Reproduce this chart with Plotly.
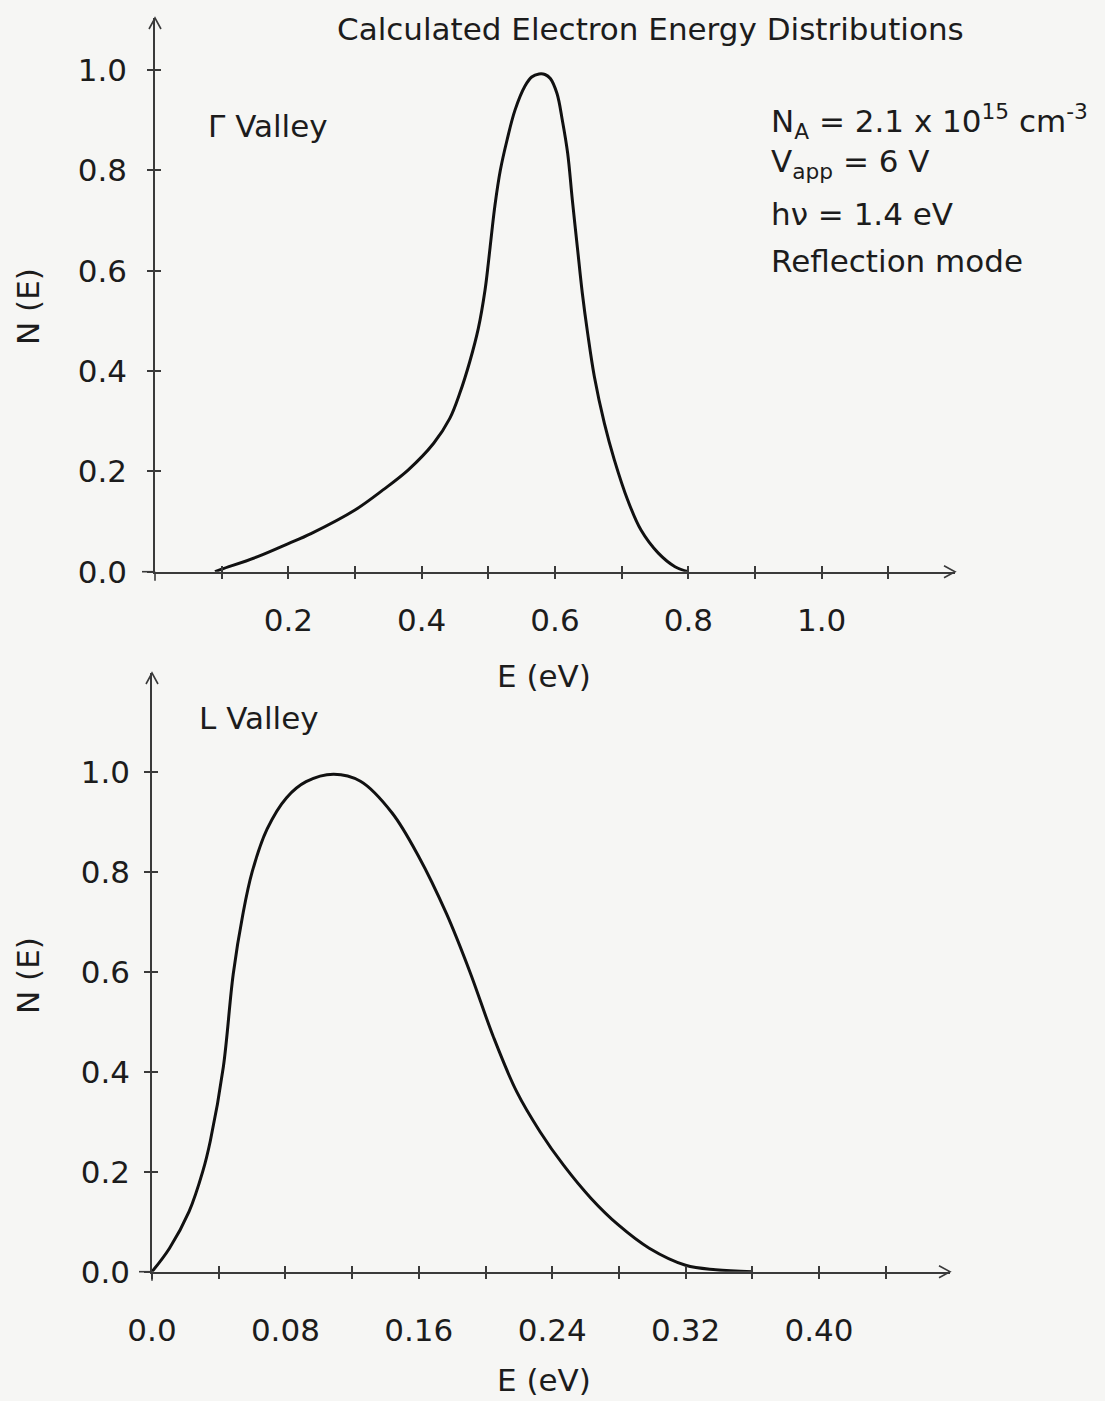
import plotly.graph_objects as go

# ---------------- data ----------------
gamma_E = [0.09, 0.10, 0.154, 0.20, 0.234, 0.30, 0.342, 0.38, 0.418, 0.442, 0.457, 0.472, 0.485,
           0.495, 0.50, 0.505, 0.51, 0.518, 0.528, 0.54, 0.555, 0.565, 0.576, 0.585, 0.593, 0.603,
           0.611, 0.619, 0.626, 0.634, 0.641, 0.649, 0.659, 0.674, 0.689, 0.709, 0.729, 0.755,
           0.78, 0.80]
gamma_N = [0.0, 0.005, 0.03, 0.056, 0.076, 0.123, 0.163, 0.203, 0.256, 0.305, 0.355, 0.418, 0.485,
           0.561, 0.615, 0.675, 0.731, 0.80, 0.86, 0.92, 0.968, 0.986, 0.992, 0.991, 0.983, 0.953,
           0.90, 0.834, 0.741, 0.641, 0.555, 0.475, 0.389, 0.296, 0.223, 0.143, 0.083, 0.037,
           0.01, 0.0]

l_E = [0.0, 0.0105, 0.0222, 0.0304, 0.035, 0.0428, 0.0487, 0.0545, 0.0601, 0.069, 0.0807, 0.0924,
       0.1088, 0.125, 0.1439, 0.16, 0.1766, 0.1906, 0.2047, 0.2187, 0.2327, 0.2468, 0.2632, 0.2795,
       0.2982, 0.32, 0.338, 0.36]
l_N = [0.0, 0.047, 0.12, 0.2, 0.262, 0.41, 0.595, 0.715, 0.80, 0.885, 0.948, 0.98, 0.995, 0.981,
       0.918, 0.83, 0.716, 0.60, 0.47, 0.36, 0.28, 0.213, 0.147, 0.094, 0.047, 0.013, 0.004, 0.0]

top_x_ticks = [0.1, 0.2, 0.3, 0.4, 0.5, 0.6, 0.7, 0.8, 0.9, 1.0, 1.1]
top_x_label_vals = [0.2, 0.4, 0.6, 0.8, 1.0]
top_x_labels = ["0.2", "0.4", "0.6", "0.8", "1.0"]
bot_x_ticks = [0.0, 0.04, 0.08, 0.12, 0.16, 0.20, 0.24, 0.28, 0.32, 0.36, 0.40, 0.44]
bot_x_label_vals = [0.0, 0.08, 0.16, 0.24, 0.32, 0.40]
bot_x_labels = ["0.0", "0.08", "0.16", "0.24", "0.32", "0.40"]
y_ticks = [0.0, 0.2, 0.4, 0.6, 0.8, 1.0]
y_labels = ["0.0", "0.2", "0.4", "0.6", "0.8", "1.0"]

title_text = "Calculated Electron Energy Distributions"
info_lines = ["N<sub>A</sub> = 2.1 x 10<sup>15</sup> cm<sup>-3</sup>",
              "V<sub>app</sub> = 6 V",
              "hν = 1.4 eV",
              "Reflection mode"]

# ---------------- layout helpers ----------------
W, H = 1105, 1401
FONT = "DejaVu Sans"
INK = "#1c1c1c"
AX = "#3a3a3a"
BG = "#f6f6f4"
FS = 31


def px(x):
    return x / W


def py(y):
    return 1 - y / H


fig = go.Figure()

fig.add_trace(go.Scatter(x=gamma_E, y=gamma_N, mode="lines", xaxis="x", yaxis="y",
                         line=dict(color="#111111", width=3, shape="spline", smoothing=1.0),
                         showlegend=False, hoverinfo="skip"))
fig.add_trace(go.Scatter(x=l_E, y=l_N, mode="lines", xaxis="x2", yaxis="y2",
                         line=dict(color="#111111", width=3, shape="spline", smoothing=1.0),
                         showlegend=False, hoverinfo="skip"))
# empty traces so the overlay tick axes (the two halves of the cross ticks) get drawn
for xa, ya in (("x3", "y3"), ("x4", "y4"), ("x5", "y3"), ("x6", "y4")):
    fig.add_trace(go.Scatter(x=[None], y=[None], xaxis=xa, yaxis=ya, showlegend=False, hoverinfo="skip"))

top_xdom = [px(155), px(955)]
top_ydom = [py(571.7), py(18)]
top_xr = [0, 1.2]
top_yr = [0, (571.7 - 18) / 501.7]

bot_xdom = [px(152), px(950)]
bot_ydom = [py(1271.7), py(673)]
bot_xr = [0, 0.04 * (950 - 152) / 66.7]
bot_yr = [0, (1271.7 - 673) / 500.0]

tickfont = dict(family=FONT, size=FS, color=INK)
common = dict(showgrid=False, zeroline=False, tickwidth=1.5, tickcolor=AX, ticklen=6, automargin=False)
tick_only = dict(showticklabels=False, showline=False, tickmode="array", **common)

fig.update_layout(
    width=W, height=H,
    margin=dict(l=0, r=0, t=0, b=0, autoexpand=False),
    paper_bgcolor=BG, plot_bgcolor=BG,
    # main axes: axis lines and labels
    xaxis=dict(domain=top_xdom, range=top_xr, anchor="y", showline=True, linecolor=AX, linewidth=1.5,
               ticks="", tickmode="array", tickvals=top_x_label_vals, ticktext=top_x_labels,
               tickfont=tickfont, ticklabelstandoff=20, **common),
    yaxis=dict(domain=top_ydom, range=top_yr, anchor="x", showline=True, linecolor=AX, linewidth=1.5,
               ticks="outside", tickmode="array", tickvals=y_ticks, ticktext=y_labels,
               tickfont=tickfont, ticklabelstandoff=14, **common),
    xaxis2=dict(domain=bot_xdom, range=bot_xr, anchor="y2", showline=True, linecolor=AX, linewidth=1.5,
                ticks="", tickmode="array", tickvals=bot_x_label_vals, ticktext=bot_x_labels,
                tickfont=tickfont, ticklabelstandoff=30, **common),
    yaxis2=dict(domain=bot_ydom, range=bot_yr, anchor="x2", showline=True, linecolor=AX, linewidth=1.5,
                ticks="outside", tickmode="array", tickvals=y_ticks, ticktext=y_labels,
                tickfont=tickfont, ticklabelstandoff=8, **common),
    # overlay axes: tick marks crossing the axis lines
    xaxis3=dict(overlaying="x", range=top_xr, anchor="y3", ticks="inside", tickvals=top_x_ticks, **tick_only),
    xaxis5=dict(overlaying="x", range=top_xr, anchor="y3", ticks="outside", tickvals=top_x_ticks, **tick_only),
    yaxis3=dict(overlaying="y", range=top_yr, anchor="x3", ticks="inside", tickvals=y_ticks, **tick_only),
    xaxis4=dict(overlaying="x2", range=bot_xr, anchor="y4", ticks="inside", tickvals=bot_x_ticks, **tick_only),
    xaxis6=dict(overlaying="x2", range=bot_xr, anchor="y4", ticks="outside", tickvals=bot_x_ticks, **tick_only),
    yaxis4=dict(overlaying="y2", range=bot_yr, anchor="x4", ticks="inside", tickvals=y_ticks, **tick_only),
)

# arrow heads and small axis extensions past the origin
shapes = []
for xa, ya in (("x", "y"), ("x2", "y2")):
    base = dict(type="path", xref=f"{xa} domain", yref=f"{ya} domain", xsizemode="pixel",
                ysizemode="pixel", line=dict(color=AX, width=1.6))
    shapes.append(dict(base, xanchor=1, yanchor=0, path="M -11,6 L 0,0 L -11,-6"))
    shapes.append(dict(base, xanchor=0, yanchor=1, path="M -6,-11 L 0,0 L 6,-11"))
    shapes.append(dict(base, xanchor=0, yanchor=0, path="M -13,0 L 0,0"))
    shapes.append(dict(base, xanchor=0, yanchor=0, path="M 0,-9 L 0,0"))
fig.update_layout(shapes=shapes)


def txt(text, x, y, xanchor="center", yanchor="middle", angle=0):
    fig.add_annotation(text=text, x=px(x), y=py(y), xref="paper", yref="paper",
                       xanchor=xanchor, yanchor=yanchor, showarrow=False, textangle=angle,
                       font=dict(family=FONT, size=FS, color=INK))


txt(title_text, 650, 29)
txt("Γ Valley", 206, 126, xanchor="left")
txt("L Valley", 197, 718, xanchor="left")
info_y = [121, 164, 214, 261]
for line, yy in zip(info_lines, info_y):
    txt(line, 769, yy, xanchor="left")
txt("E (eV)", 544, 676)
txt("E (eV)", 544, 1380)
txt("N (E)", 28, 307, angle=-90)
txt("N (E)", 28, 976, angle=-90)

fig.write_html("out.html")
